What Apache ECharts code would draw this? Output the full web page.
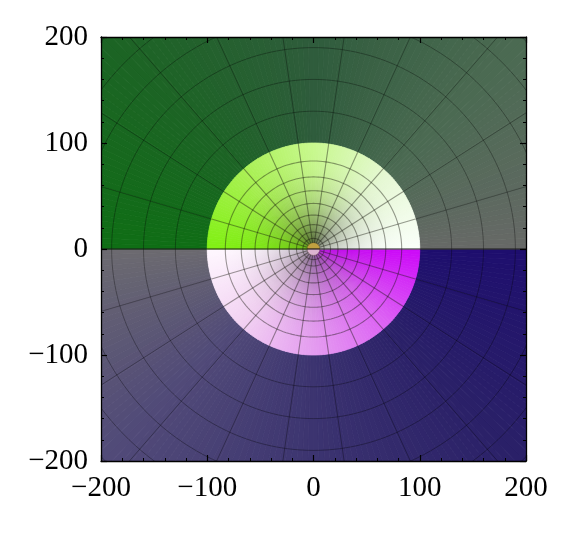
<!DOCTYPE html>
<html><head><meta charset="utf-8">
<script src="https://cdn.jsdelivr.net/npm/echarts@6/dist/echarts.min.js"></script>
<style>html,body{margin:0;padding:0;background:#fff}#c{width:570px;height:547px}</style>
</head><body><div id="c"></div>
<script>
// ---- data ----
const axisTicks = [-200, -100, 0, 100, 200];
const angleAnchors = [0, 45, 90, 135, 180];            // |arg| in degrees
const outerUpper = ['#676967', '#4b6a52', '#2f5c3c', '#1c6424', '#0f6e15'];
const outerLower = ['#1e0e6e', '#2a2068', '#3c3470', '#514a78', '#6c6b70'];
const innerUpperEdge = ['#fafffa', '#e6f8d4', '#c8f88e', '#a6f04e', '#80f012'];
const innerUpperDark = ['#6a6c64', '#50564a', '#3e4a2c', '#3a4a1e', '#4a6a14'];
const innerUpperShade = [0.55, 0.85, 0.95, 0.75, 0.45];
const innerLowerEdge = ['#cc08f8', '#dc60f4', '#e49cf0', '#f2d2f2', '#fff8ff'];
const innerLowerDark = ['#8a20a8', '#6e3a80', '#5e4a6c', '#64586a', '#7a7280'];
const innerLowerShade = [0.35, 0.65, 0.8, 0.8, 0.6];
const discRadius = 100;
const centerRadius = 6;
const meshSpokes = [16.4, 32.7, 49.1, 65.5, 81.8, 98.2, 114.5, 130.9, 147.3, 163.6];
const innerRings = [83, 68, 55, 43, 32, 23, 16, 10];
const outerRings = [130, 160, 190, 220, 250, 280];
const centerColors = ['#c0a040', '#dcb4d0'];

// ---- helpers ----
function rgb(h){h=h.replace('#','');return [parseInt(h.substr(0,2),16),parseInt(h.substr(2,2),16),parseInt(h.substr(4,2),16)];}
function mix(a,b,t){return [a[0]+(b[0]-a[0])*t,a[1]+(b[1]-a[1])*t,a[2]+(b[2]-a[2])*t];}
function css(c){return 'rgb('+c.map(v=>Math.round(v)).join(',')+')';}
function anchorColor(arr, ang){
  const a=Math.min(180,Math.max(0,ang));
  for(let i=0;i<angleAnchors.length-1;i++){
    if(a<=angleAnchors[i+1]){const t=(a-angleAnchors[i])/(angleAnchors[i+1]-angleAnchors[i]);return mix(rgb(arr[i]),rgb(arr[i+1]),t);}
  }
  return rgb(arr[arr.length-1]);
}
function anchorNum(arr, ang){
  const a=Math.min(180,Math.max(0,ang));
  for(let i=0;i<angleAnchors.length-1;i++){
    if(a<=angleAnchors[i+1]){const t=(a-angleAnchors[i])/(angleAnchors[i+1]-angleAnchors[i]);return arr[i]+(arr[i+1]-arr[i])*t;}
  }
  return arr[arr.length-1];
}
const STEP = 1.5;
const sectors = [];
for(let a=-180;a<180-1e-9;a+=STEP){ sectors.push([a, a+STEP]); }
const spokeData = meshSpokes.concat(meshSpokes.map(v=>-v));

const chart = echarts.init(document.getElementById('c'), null, {renderer:'canvas'});
const font = {fontFamily:'Liberation Serif', fontSize:29, color:'#000'};
const fmt = v => String(v).replace('-', '\u2212');
function axisBase(pos, showLabel){
  return {type:'value', min:-200, max:200, interval:100, position:pos, z:10,
    axisLine:{show:true, onZero:false, lineStyle:{color:'#000', width:1.3}},
    axisTick:{show:true, inside:true, length:6, lineStyle:{color:'#000', width:1.2}},
    minorTick:{show:true, splitNumber:5, length:3, lineStyle:{color:'#000', width:1}},
    splitLine:{show:false},
    axisLabel:Object.assign({show:showLabel, formatter:fmt, margin:13}, font)};
}
function arcPts(api, r, a0, a1, n){
  const pts=[];
  for(let i=0;i<=n;i++){const a=(a0+(a1-a0)*i/n)*Math.PI/180;pts.push(api.coord([r*Math.cos(a), r*Math.sin(a)]));}
  return pts;
}
chart.setOption({
  animation:false,
  grid:{left:101, top:37, width:425, height:424},
  xAxis:[axisBase('bottom', true), axisBase('top', false)],
  yAxis:[axisBase('left', true), axisBase('right', false)],
  series:[
    { // outer colour field
      type:'custom', clip:true, z:1, data:sectors,
      renderItem:function(p, api){
        const s=sectors[p.dataIndex]; const mid=(s[0]+s[1])/2;
        const col=css(mid>=0?anchorColor(outerUpper, mid):anchorColor(outerLower, -mid));
        const pts=arcPts(api, discRadius, s[0], s[1], 2).concat(arcPts(api, 300, s[1], s[0], 3));
        return {type:'polygon', shape:{points:pts}, style:{fill:col, stroke:col, lineWidth:0.8}};
      }
    },
    { // inner disc colour field
      type:'custom', clip:true, z:2, data:sectors,
      renderItem:function(p, api){
        const s=sectors[p.dataIndex]; const mid=(s[0]+s[1])/2;
        const up=mid>=0; const ang=Math.abs(mid);
        const edge=anchorColor(up?innerUpperEdge:innerLowerEdge, ang);
        const dark=anchorColor(up?innerUpperDark:innerLowerDark, ang);
        const shade=anchorNum(up?innerUpperShade:innerLowerShade, ang);
        const c=api.coord([0,0]); const R=api.size([discRadius,0])[0];
        const stops=[];
        for(let i=0;i<=12;i++){const t=i/12;const w=shade*Math.pow(1-t,2.6);stops.push({offset:t,color:css(mix(edge,dark,Math.min(1,w)))});}
        const fill={type:'radial', x:c[0], y:c[1], r:R, colorStops:stops, global:true};
        const pts=[c].concat(arcPts(api, discRadius, s[0], s[1], 2));
        return {type:'polygon', shape:{points:pts}, style:{fill:fill, stroke:fill, lineWidth:0.8}};
      }
    },
    { // mesh rings
      type:'custom', clip:true, z:3, data:innerRings.concat(outerRings),
      renderItem:function(p, api){
        const r=api.value(0); const inner=r<discRadius;
        const pts=arcPts(api, r, 0, 360, 180);
        return {type:'polyline', shape:{points:pts}, style:{fill:null, stroke:inner?'rgba(20,20,10,0.42)':'rgba(0,0,0,0.32)', lineWidth:inner?1.1:1}};
      }
    },
    { // mesh spokes
      type:'custom', clip:true, z:3, data:spokeData,
      renderItem:function(p, api){
        const a=api.value(0)*Math.PI/180;
        const p0=api.coord([centerRadius*Math.cos(a), centerRadius*Math.sin(a)]);
        const p1=api.coord([discRadius*Math.cos(a), discRadius*Math.sin(a)]);
        const p2=api.coord([300*Math.cos(a), 300*Math.sin(a)]);
        return {type:'group', children:[
          {type:'line', shape:{x1:p0[0],y1:p0[1],x2:p1[0],y2:p1[1]}, style:{stroke:'rgba(20,20,10,0.42)', lineWidth:1.1}},
          {type:'line', shape:{x1:p1[0],y1:p1[1],x2:p2[0],y2:p2[1]}, style:{stroke:'rgba(0,0,0,0.32)', lineWidth:1}}
        ]};
      }
    },
    { // centre disc
      type:'custom', clip:true, z:4, data:[[0,180],[180,360]],
      renderItem:function(p, api){
        const c=api.coord([0,0]); const R=api.size([centerRadius,0])[0];
        const d=p.dataIndex;
        return {type:'sector', shape:{cx:c[0], cy:c[1], r0:0, r:R, startAngle:d===0?Math.PI:0, endAngle:d===0?2*Math.PI:Math.PI, clockwise:true},
          style:{fill:centerColors[d], stroke:'rgba(60,40,20,0.5)', lineWidth:0.6}};
      }
    },
    { // cut along the real axis
      type:'line', z:5, data:[[axisTicks[0],0],[axisTicks[axisTicks.length-1],0]], symbol:'none',
      lineStyle:{color:'#1a1a1a', width:1}
    }
  ]
});
</script></body></html>
